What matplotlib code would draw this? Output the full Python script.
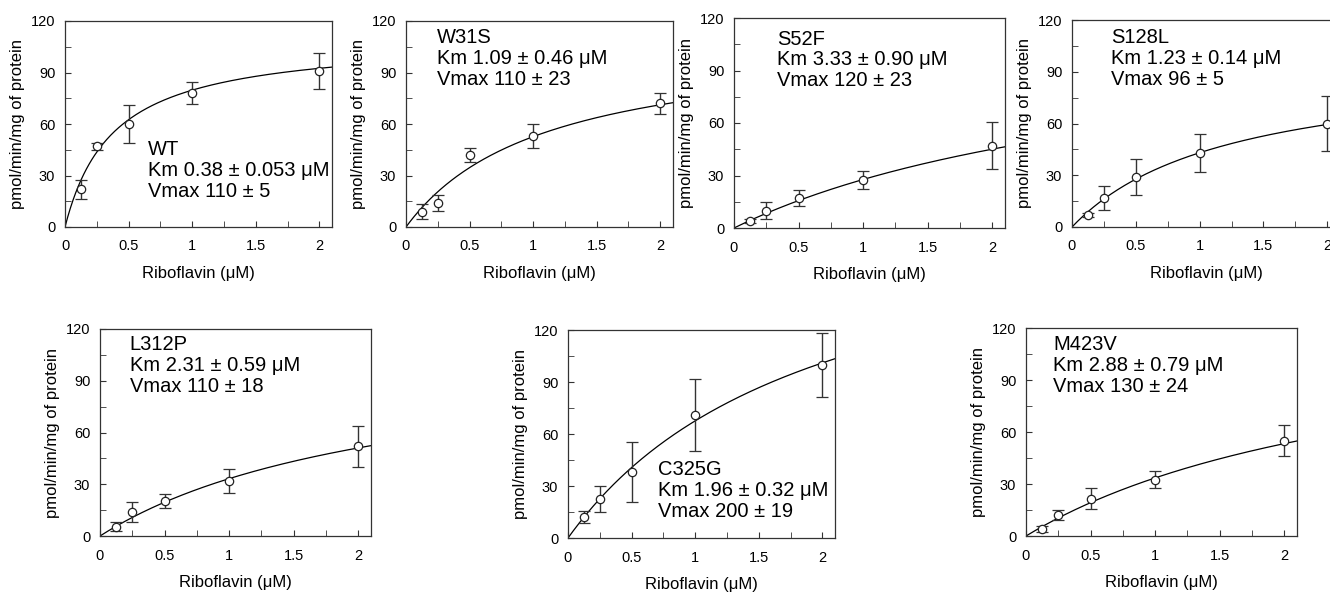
import matplotlib
matplotlib.use('Agg')
import matplotlib.pyplot as plt
from matplotlib.ticker import MultipleLocator
import numpy as np


RIBOFLAVIN = [0.125, 0.25, 0.5, 1, 2]

NAMES = ['WT', 'W31S', 'S52F', 'S128L', 'L312P', 'C325G', 'M423V']
KM_TEXT = ['0.38 ± 0.053', '1.09 ± 0.46', '3.33 ± 0.90', '1.23 ± 0.14',
           '2.31 ± 0.59', '1.96 ± 0.32', '2.88 ± 0.79']
VMAX_TEXT = ['110 ± 5', '110 ± 23', '120 ± 23', '96 ± 5',
             '110 ± 18', '200 ± 19', '130 ± 24']
KM = [0.38, 1.09, 3.33, 1.23, 2.31, 1.96, 2.88]
VMAX = [110, 110, 120, 96, 110, 200, 130]

ACTIVITY = [
    [22, 47, 60, 78, 91],
    [9, 14, 42, 53, 72],
    [4, 10, 17, 27.5, 47],
    [7, 17, 29, 43, 60],
    [5.5, 14, 20.5, 32, 52],
    [12, 22.5, 38, 71, 100],
    [4, 12, 21.5, 32.5, 55],
]
ERRORS = [
    [5.5, 2, 11, 6.5, 10.5],
    [4.5, 4.5, 4, 7, 6],
    [1, 5, 4.5, 5, 13.5],
    [1, 7, 10.5, 11, 16],
    [2.5, 6, 4, 7, 12],
    [3.5, 7.5, 17.5, 21, 18.5],
    [1.5, 3, 6, 5, 9],
]

# axes rectangles in figure pixels: left, top, width, height
PANELS = [
    (65, 21, 267, 206),
    (406, 21, 267, 206),
    (734, 18, 271, 210),
    (1072, 20, 268, 207),
    (100, 329, 271, 207),
    (568, 330, 267, 208),
    (1026, 328, 271, 208),
]
TEXT_POS = [(0.31, 0.42), (0.116, 0.965), (0.16, 0.945), (0.145, 0.96),
            (0.11, 0.97), (0.337, 0.375), (0.10, 0.965)]

W, H = 1330, 594


def plotting_config():
    plt.rcParams.update({
        'font.family': ['Liberation Sans', 'DejaVu Sans'],
        'font.size': 10.5,
        'axes.linewidth': 0.9,
        'axes.edgecolor': '#333333',
        'xtick.direction': 'in',
        'ytick.direction': 'in',
        'xtick.major.size': 4.5,
        'ytick.major.size': 4.5,
        'xtick.minor.size': 4.5,
        'ytick.minor.size': 4.5,
        'xtick.color': '#333333',
        'ytick.color': '#333333',
        'xtick.labelcolor': 'black',
        'ytick.labelcolor': 'black',
        'xtick.labelsize': 10.5,
        'ytick.labelsize': 10.5,
        'xtick.major.pad': 9,
        'ytick.major.pad': 7,
    })


def draw_panel(ax, i):
    xs = np.linspace(0, 2.1, 200)
    ax.plot(xs, VMAX[i] * xs / (KM[i] + xs), color='k', lw=0.9, zorder=2)
    ax.errorbar(RIBOFLAVIN, ACTIVITY[i], yerr=ERRORS[i], fmt='o', ms=6,
                mfc='white', mec='#222222', mew=0.9, ecolor='#333333',
                elinewidth=1, capsize=4, capthick=1, zorder=3)
    ax.set_xlim(0, 2.1)
    ax.set_ylim(0, 120)
    ax.xaxis.set_major_locator(MultipleLocator(0.5))
    ax.xaxis.set_minor_locator(MultipleLocator(0.25))
    ax.yaxis.set_major_locator(MultipleLocator(30))
    ax.yaxis.set_minor_locator(MultipleLocator(15))
    ax.set_xticklabels([f'{t:g}' for t in ax.get_xticks()])
    ax.tick_params(which='both', top=False, right=False)
    ax.set_xlabel('Riboflavin (μM)', fontsize=12, labelpad=9)
    ax.set_ylabel('pmol/min/mg of protein', fontsize=12, labelpad=4)
    tx, ty = TEXT_POS[i]
    label = f'{NAMES[i]}\nKm {KM_TEXT[i]} μM\nVmax {VMAX_TEXT[i]}'
    ax.text(tx, ty, label, transform=ax.transAxes, ha='left', va='top',
            fontsize=14.5, linespacing=1.12)


def main():
    plotting_config()
    fig = plt.figure(figsize=(W / 100, H / 100), dpi=100)
    for i, (left, top, width, height) in enumerate(PANELS):
        ax = fig.add_axes([left / W, 1 - (top + height) / H, width / W, height / H])
        draw_panel(ax, i)
    fig.savefig('out.png', dpi=100)


if __name__ == "__main__":
    main()
